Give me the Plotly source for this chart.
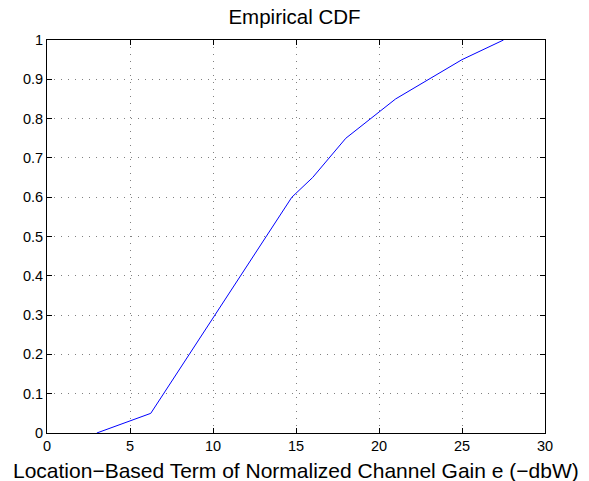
import plotly.graph_objects as go

x_vals = [3.0, 6.25, 14.75, 16.0, 18.0, 21.0, 25.0, 27.5]
y_vals = [0.0, 0.05, 0.60, 0.65, 0.75, 0.85, 0.95, 1.0]
x_ticks = [0, 5, 10, 15, 20, 25, 30]
y_ticks = [0, 0.1, 0.2, 0.3, 0.4, 0.5, 0.6, 0.7, 0.8, 0.9, 1]
y_tick_text = ["0", "0.1", "0.2", "0.3", "0.4", "0.5", "0.6", "0.7", "0.8", "0.9", "1"]
x_label = "Location\u2212Based Term of Normalized Channel Gain e (\u2212dbW)"

FONT = "Liberation Sans, Arial, Helvetica, sans-serif"

fig = go.Figure()
fig.add_trace(go.Scatter(x=x_vals, y=y_vals, mode="lines",
                         line=dict(color="#0000ff", width=1), showlegend=False))

axis_common = dict(
    showline=True, linecolor="black", linewidth=1, mirror="ticks",
    ticks="inside", ticklen=5, tickcolor="black",
    showgrid=True, gridcolor="#808080", griddash="1px,6px", gridwidth=1,
    zeroline=False, automargin=False,
    tickfont=dict(family=FONT, size=14.5, color="black"),
)

fig.update_layout(
    width=589, height=481,
    paper_bgcolor="white", plot_bgcolor="white",
    margin=dict(l=47, r=44, t=40, b=48),
    title=dict(text="Empirical CDF", x=0.5, xanchor="center", y=0.98, yanchor="top",
               font=dict(family=FONT, size=20.5, color="black")),
    xaxis=dict(range=[0, 30], tickvals=x_ticks, ticktext=[str(v) for v in x_ticks],
               **axis_common),
    yaxis=dict(range=[0, 1], tickvals=y_ticks, ticktext=y_tick_text, **axis_common),
    annotations=[dict(text=x_label, xref="paper", yref="paper", x=0.5, y=-0.095,
                      xanchor="center", yanchor="middle", showarrow=False,
                      font=dict(family=FONT, size=21, color="black"))],
)

fig.write_html("out.html", config={"displayModeBar": False},
               post_script="document.body.style.margin='0';document.body.style.overflow='hidden';")
